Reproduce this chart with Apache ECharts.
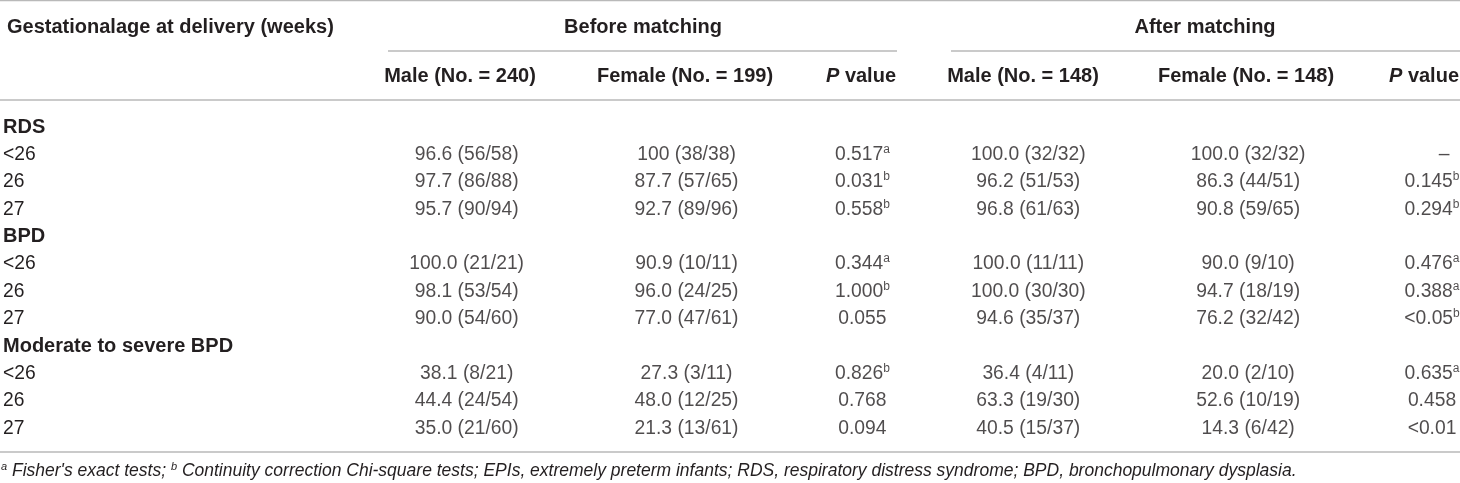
<!DOCTYPE html>
<html><head><meta charset="utf-8">
<script src="https://cdn.jsdelivr.net/npm/echarts@6/dist/echarts.min.js"></script>
<style>html,body{margin:0;padding:0;background:#fff}#c{width:1460px;height:483px}</style>
</head><body><div id="c"></div>
<script>
// ---------- DATA ----------
const stubHeader = 'Gestationalage at delivery (weeks)';
const groupHeaders = ['Before matching', 'After matching'];
const colHeaders = ['Male (No. = 240)', 'Female (No. = 199)', 'P value', 'Male (No. = 148)', 'Female (No. = 148)', 'P value'];
const rowLabels = ['RDS', '<26', '26', '27', 'BPD', '<26', '26', '27', 'Moderate to severe BPD', '<26', '26', '27'];
const groupRows = ['RDS', 'BPD', 'Moderate to severe BPD'];
const dataRows = [1, 2, 3, 5, 6, 7, 9, 10, 11];

const maleBefore   = ['96.6 (56/58)', '97.7 (86/88)', '95.7 (90/94)', '100.0 (21/21)', '98.1 (53/54)', '90.0 (54/60)', '38.1 (8/21)', '44.4 (24/54)', '35.0 (21/60)'];
const femaleBefore = ['100 (38/38)', '87.7 (57/65)', '92.7 (89/96)', '90.9 (10/11)', '96.0 (24/25)', '77.0 (47/61)', '27.3 (3/11)', '48.0 (12/25)', '21.3 (13/61)'];
const pBefore      = ['0.517', '0.031', '0.558', '0.344', '1.000', '0.055', '0.826', '0.768', '0.094'];
const pBeforeNote  = ['a', 'b', 'b', 'a', 'b', '', 'b', '', ''];
const maleAfter    = ['100.0 (32/32)', '96.2 (51/53)', '96.8 (61/63)', '100.0 (11/11)', '100.0 (30/30)', '94.6 (35/37)', '36.4 (4/11)', '63.3 (19/30)', '40.5 (15/37)'];
const femaleAfter  = ['100.0 (32/32)', '86.3 (44/51)', '90.8 (59/65)', '90.0 (9/10)', '94.7 (18/19)', '76.2 (32/42)', '20.0 (2/10)', '52.6 (10/19)', '14.3 (6/42)'];
const pAfter       = ['–', '0.145', '0.294', '0.476', '0.388', '<0.05', '0.635', '0.458', '<0.01'];
const pAfterNote   = ['', 'b', 'b', 'a', 'a', 'b', 'a', '', ''];

const footNotes = [
  ['a', ' Fisher\'s exact tests; '],
  ['b', ' Continuity correction Chi-square tests; EPIs, extremely preterm infants; RDS, respiratory distress syndrome; BPD, bronchopulmonary dysplasia.']
];

// ---------- LAYOUT / STYLE ----------
const FONT = "'Liberation Sans', Arial, Helvetica, sans-serif";
const TXT = '#231f20';
const RULE = '#b9b9b9';
const L = {
  W: 1460,
  colX: [466, 686, 862, 1028, 1248, 1432],
  headX: [460, 685, 861, 1023, 1246, 1424],
  groupX: [643, 1205],
  groupSpan: [[388, 897], [951, 1460]],
  yGroup: 27, yGroupRule: 51, ySub: 76, yHeadRule: 100, yTop: 0.5, yBottomRule: 452, yFoot: 471,
  gridTop: 113.3, gridBottom: 40.9,
  bodySize: 19.3, boldSize: 20, footSize: 17.5,
  dashShift: 12
};

const columns = [maleBefore, femaleBefore, pBefore, maleAfter, femaleAfter, pAfter];
const notes = [null, null, pBeforeNote, null, null, pAfterNote];

const cellRich = {
  n: { fontFamily: FONT, fontSize: L.bodySize, color: TXT, lineHeight: 22 },
  s: { fontFamily: FONT, fontSize: 12, color: TXT, verticalAlign: 'top', lineHeight: 12 }
};

const series = columns.map((col, j) => ({
  type: 'scatter',
  symbolSize: 1,
  silent: true,
  itemStyle: { color: 'rgba(0,0,0,0)' },
  data: col.map((v, k) => {
    const item = { value: [L.colX[j], dataRows[k], v, notes[j] ? notes[j][k] : ''] };
    if (v === '–') item.label = { offset: [L.dashShift, 0] };
    return item;
  }),
  label: {
    show: true,
    position: 'inside',
    align: 'center',
    formatter: p => p.value[3] ? '{n|' + p.value[2] + '}{s|' + p.value[3] + '}' : '{n|' + p.value[2] + '}',
    rich: cellRich
  }
}));

function txt(x, y, content, extra) {
  return {
    type: 'text', x: x, y: y, silent: true,
    style: Object.assign({
      text: content, fill: TXT, font: 'bold ' + L.boldSize + 'px ' + FONT,
      align: 'center', verticalAlign: 'middle'
    }, extra || {})
  };
}
function rule(x1, x2, y) {
  return { type: 'line', silent: true, shape: { x1: x1, y1: y, x2: x2, y2: y }, style: { stroke: RULE, lineWidth: 1.6 } };
}

const graphics = [];
graphics.push(rule(0, L.W, L.yTop));
graphics.push(rule(L.groupSpan[0][0], L.groupSpan[0][1], L.yGroupRule));
graphics.push(rule(L.groupSpan[1][0], L.groupSpan[1][1], L.yGroupRule));
graphics.push(rule(0, L.W, L.yHeadRule));
graphics.push(rule(0, L.W, L.yBottomRule));
graphics.push(txt(7, L.yGroup, stubHeader, { align: 'left' }));
groupHeaders.forEach((g, i) => graphics.push(txt(L.groupX[i], L.yGroup, g)));
colHeaders.forEach((h, i) => {
  if (h.indexOf('P ') === 0) {
    graphics.push(txt(L.headX[i], L.ySub, '{it|P}{b|' + h.slice(1) + '}', {
      rich: {
        it: { fontFamily: FONT, fontSize: L.boldSize, fontWeight: 'bold', fontStyle: 'italic', fill: TXT },
        b: { fontFamily: FONT, fontSize: L.boldSize, fontWeight: 'bold', fill: TXT }
      }
    }));
  } else {
    graphics.push(txt(L.headX[i], L.ySub, h));
  }
});
graphics.push(txt(1, L.yFoot, footNotes.map(f => '{s|' + f[0] + '}{i|' + f[1] + '}').join(''), {
  align: 'left',
  font: 'italic ' + L.footSize + 'px ' + FONT,
  rich: {
    s: { fontFamily: FONT, fontSize: 11, fontStyle: 'italic', fill: TXT, verticalAlign: 'top', lineHeight: 11 },
    i: { fontFamily: FONT, fontSize: L.footSize, fontStyle: 'italic', fill: TXT, lineHeight: 20 }
  }
}));

const chart = echarts.init(document.getElementById('c'), null, { renderer: 'canvas' });
chart.setOption({
  animation: false,
  backgroundColor: '#fff',
  grid: { left: 0, right: 0, top: L.gridTop, bottom: L.gridBottom, containLabel: false },
  xAxis: { type: 'value', min: 0, max: L.W, show: false },
  yAxis: {
    type: 'category',
    inverse: true,
    data: rowLabels.map((t, i) => String(i)),
    axisLine: { show: false }, axisTick: { show: false }, splitLine: { show: false },
    axisLabel: {
      inside: true, margin: 2, interval: 0,
      formatter: v => {
        const t = rowLabels[+v];
        return groupRows.indexOf(t) >= 0 ? '{b|' + t + '}' : '{r|' + t + '}';
      },
      rich: {
        b: { fontFamily: FONT, fontSize: L.boldSize, fontWeight: 'bold', color: TXT },
        r: { fontFamily: FONT, fontSize: L.bodySize, color: TXT }
      }
    }
  },
  graphic: { elements: graphics },
  series: series
});
</script>
</body></html>
